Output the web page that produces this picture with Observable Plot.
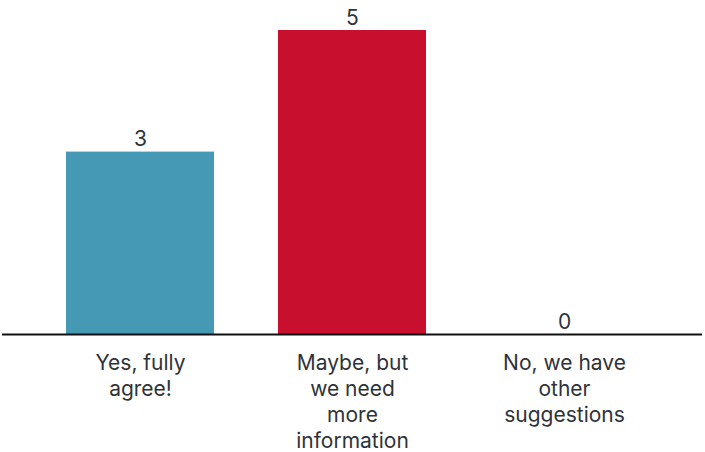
<!DOCTYPE html>
<html>
<head>
<meta charset="utf-8">
<script src="https://cdn.jsdelivr.net/npm/d3@7"></script>
<script src="https://cdn.jsdelivr.net/npm/@observablehq/plot@0.6"></script>
<style>
  html, body { margin: 0; padding: 0; background: #fff; }
  #chart { width: 705px; height: 452px; }
</style>
</head>
<body>
<div id="chart"></div>
<script>
const categories = ["Yes, fully agree!", "Maybe, but we need more information", "No, we have other suggestions"];
const tickLabels = ["Yes, fully\nagree!", "Maybe, but\nwe need\nmore\ninformation", "No, we have\nother\nsuggestions"];
const values = [3, 5, 0];
const colors = ["#4699b5", "#c8102e", "#888888"];

const data = categories.map((c, i) => ({category: c, value: values[i], color: colors[i]}));
const labelOf = new Map(categories.map((c, i) => [c, tickLabels[i]]));

const chart = Plot.plot({
  width: 705,
  height: 452,
  marginTop: 30,
  marginBottom: 118,
  marginLeft: 2,
  marginRight: 3,
  style: {fontFamily: "Inter, sans-serif", color: "#2f3338", background: "#fff"},
  x: {domain: categories, padding: 0.3, label: null},
  y: {domain: [0, 5], axis: null},
  marks: [
    Plot.barY(data, {x: "category", y: "value", fill: "color"}),
    Plot.text(data, {x: "category", y: "value", text: d => String(d.value), lineAnchor: "bottom", dy: -6, fontSize: 21, fill: "#2f3338"}),
    Plot.ruleY([0], {stroke: "#111", strokeWidth: 2}),
    Plot.axisX({tickSize: 0, tickPadding: 17, fontSize: 21, lineHeight: 1.238, tickFormat: d => labelOf.get(d), fill: "#2f3338", label: null})
  ]
});
document.getElementById("chart").appendChild(chart);
</script>
</body>
</html>
